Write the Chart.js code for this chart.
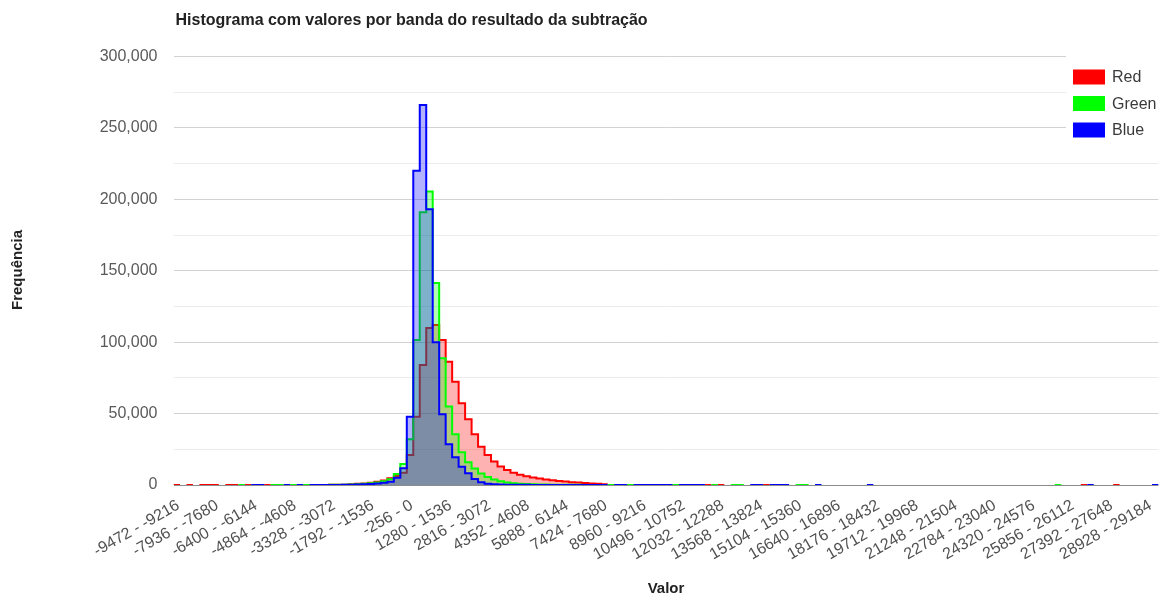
<!DOCTYPE html>
<html>
<head>
<meta charset="utf-8">
<script src="https://cdn.jsdelivr.net/npm/chart.js@4.4.1/dist/chart.umd.min.js"></script>
<style>
  html, body { margin: 0; padding: 0; background: #ffffff; }
  #wrap { position: relative; width: 1165px; height: 598px; }
</style>
</head>
<body>
<div id="wrap"><canvas id="chart" width="1165" height="598"></canvas></div>
<script>
// Histogram of the per-band subtraction result: 152 bins, 256 units wide each
const chartTitle = 'Histograma com valores por banda do resultado da subtração';
const xAxisTitle = 'Valor';
const yAxisTitle = 'Frequência';
const binStart = -9472;
const binWidth = 256;

const seriesNames = ['Red', 'Green', 'Blue'];

const tickLabels = [
  '-9472 - -9216', '-7936 - -7680', '-6400 - -6144', '-4864 - -4608', '-3328 - -3072',
  '-1792 - -1536', '-256 - 0', '1280 - 1536', '2816 - 3072', '4352 - 4608',
  '5888 - 6144', '7424 - 7680', '8960 - 9216', '10496 - 10752', '12032 - 12288',
  '13568 - 13824', '15104 - 15360', '16640 - 16896', '18176 - 18432', '19712 - 19968',
  '21248 - 21504', '22784 - 23040', '24320 - 24576', '25856 - 26112', '27392 - 27648',
  '28928 - 29184'
];

// counts per bin (null = empty bin)
const redValues = [
  4, null, 3, null, 5, 4, 6, null, 5, 7,
  null, 8, null, null, 10, null, null, null, null, null,
  null, 30, 50, 80, 120, 180, 260, 500, 800, 1100,
  1600, 2300, 3200, 4700, 6300, 8500, 21000, 47800, 84000, 110000,
  112000, 101500, 86300, 72300, 57200, 46000, 35500, 26800, 21000, 16500,
  13000, 10500, 8600, 7200, 6100, 5200, 4500, 3900, 3300, 2800,
  2400, 2000, 1700, 1400, 1100, 800, 500, null, null, null,
  null, null, null, null, null, null, null, null, null, null,
  null, null, 3, null, 4, null, null, null, null, null,
  null, 3, null, null, null, null, null, null, null, null,
  null, null, null, null, null, null, null, null, null, null,
  null, null, null, null, null, null, null, null, null, null,
  null, null, null, null, null, null, null, null, null, null,
  null, null, null, null, null, null, null, null, null, null,
  2, null, null, null, null, 2, null, null, null, null,
  null, null
];

const greenValues = [
  null, null, null, null, null, null, null, null, null, null,
  4, null, null, null, null, 5, 6, null, 7, null,
  9, 20, 40, 60, 90, 130, 200, 300, 500, 800,
  1200, 1800, 2600, 4000, 7700, 14700, 32000, 101500, 191000, 205500,
  141500, 88700, 55000, 35500, 23000, 16000, 11500, 8000, 5600, 3800,
  2600, 1800, 1300, 950, 700, 520, 400, 300, 240, 190,
  150, 120, 100, 80, 60, 50, 40, 30, 25, 20,
  18, 15, 12, 10, 9, 8, 7, 6, 5, 5,
  4, 4, null, 3, null, null, 3, 2, null, null,
  null, null, null, null, null, null, 2, 2, null, null,
  null, null, null, null, null, null, null, null, null, null,
  null, null, null, null, null, null, null, null, null, null,
  null, null, null, null, null, null, null, null, null, null,
  null, null, null, null, null, null, 1, null, null, null,
  null, null, null, null, null, null, null, null, null, null,
  null, null
];

const blueValues = [
  null, null, null, null, null, null, null, null, null, null,
  null, null, 3, 4, null, null, null, 5, null, 6,
  null, 10, 20, 30, 50, 80, 120, 200, 300, 500,
  700, 1000, 1500, 2300, 5000, 11700, 47800, 220000, 266000, 193000,
  100000, 49500, 28500, 19500, 12800, 8200, 4200, 2000, 900, 500,
  350, 250, 180, 130, 100, 80, 60, 50, 40, 35,
  30, 28, 26, 24, 22, 20, 18, null, 25, 20,
  null, 18, 15, 12, 10, 9, 8, null, 7, 6,
  5, 4, null, null, null, null, null, null, null, 3,
  3, null, 3, 2, 2, null, null, null, null, 2,
  null, null, null, null, null, null, null, 1, null, null,
  null, null, null, null, null, null, null, null, null, null,
  null, null, null, null, null, null, null, null, null, null,
  null, null, null, null, null, null, null, null, null, null,
  null, 1, null, null, null, null, null, null, null, null,
  null, 1
];

const binEnd = binStart + redValues.length * binWidth;
const FONT = '"Liberation Sans", Arial, sans-serif';

// Each bin becomes a flat segment from its left edge to its right edge,
// so the line reads as a step outline; empty bins break the line.
function stepPoints(values) {
  const pts = [];
  values.forEach((v, i) => {
    const left = binStart + i * binWidth;
    if (v === null) {
      pts.push({ x: left, y: null });
    } else {
      pts.push({ x: left, y: v }, { x: left + binWidth, y: v });
    }
  });
  return pts;
}

// each tick sits inside the bin named by its label
const tickValues = tickLabels.map(t => parseFloat(t) + binWidth * 0.75);

const seriesStyle = [
  { line: '#ff0000', fill: 'rgba(255,0,0,0.3)', order: 3 },
  { line: '#00ff00', fill: 'rgba(0,255,0,0.3)', order: 2 },
  { line: '#0000ff', fill: 'rgba(0,0,255,0.3)', order: 1 }
];
const seriesValues = [redValues, greenValues, blueValues];

const datasets = seriesNames.map((name, i) => ({
  label: name,
  data: stepPoints(seriesValues[i]),
  borderColor: seriesStyle[i].line,
  backgroundColor: seriesStyle[i].fill,
  borderWidth: 2,
  pointRadius: 0,
  pointHoverRadius: 0,
  tension: 0,
  fill: 'origin',
  order: seriesStyle[i].order
}));

const textPlugin = {
  id: 'chartTexts',
  afterDraw(chart) {
    const ctx = chart.ctx;
    const area = chart.chartArea;
    ctx.save();
    // title
    ctx.fillStyle = '#222222';
    ctx.font = 'bold 16px ' + FONT;
    ctx.textAlign = 'left';
    ctx.textBaseline = 'middle';
    ctx.fillText(chartTitle, area.left + 2, 21);
    // x axis title
    ctx.font = 'bold 15px ' + FONT;
    ctx.textAlign = 'center';
    ctx.fillText(xAxisTitle, (area.left + area.right) / 2, 589);
    // y axis title
    ctx.translate(18, 270);
    ctx.rotate(-Math.PI / 2);
    ctx.fillText(yAxisTitle, 0, 0);
    ctx.restore();

    // legend box over the upper right of the plot
    ctx.save();
    ctx.fillStyle = '#ffffff';
    ctx.fillRect(1066, 48, 99, 98);
    ctx.font = '16px ' + FONT;
    ctx.textAlign = 'left';
    ctx.textBaseline = 'middle';
    chart.data.datasets.forEach((ds, i) => {
      const cy = 77 + i * 26.5;
      ctx.fillStyle = ds.borderColor;
      ctx.fillRect(1073, cy - 7.5, 32, 15);
      ctx.fillStyle = '#3a3a3a';
      ctx.fillText(ds.label, 1112, cy + 1);
    });
    ctx.restore();
  }
};

new Chart(document.getElementById('chart'), {
  type: 'line',
  data: { datasets },
  options: {
    responsive: false,
    animation: false,
    devicePixelRatio: 1,
    layout: { padding: { left: 0, top: 56.5, right: 6.5, bottom: 0 } },
    plugins: {
      legend: { display: false },
      title: { display: false },
      tooltip: { enabled: false }
    },
    scales: {
      x: {
        type: 'linear',
        min: binStart,
        max: binEnd,
        afterBuildTicks(scale) {
          scale.ticks = tickValues.map(v => ({ value: v }));
        },
        afterFit(scale) {
          scale.height = 113;
          scale.paddingLeft = 0;
          scale.paddingRight = 0;
        },
        grid: { display: false },
        border: { display: false },
        ticks: {
          autoSkip: false,
          minRotation: 30,
          maxRotation: 30,
          padding: 3,
          color: '#505050',
          font: { family: FONT, size: 16 },
          callback: (value, index) => tickLabels[index]
        }
      },
      y: {
        min: 0,
        max: 300000,
        afterFit(scale) { scale.width = 173.5; },
        border: { display: false },
        grid: {
          drawTicks: false,
          lineWidth: 1,
          color: ctx => {
            const v = ctx.tick.value;
            if (v === 0) return '#8c8c8c';
            return v % 50000 === 0 ? '#d2d2d2' : '#ececec';
          }
        },
        ticks: {
          stepSize: 25000,
          padding: 16,
          color: '#5a5a5a',
          font: { family: FONT, size: 16 },
          callback: v => (v % 50000 === 0 ? v.toLocaleString('en-US') : '')
        }
      }
    }
  },
  plugins: [textPlugin]
});
</script>
</body>
</html>
